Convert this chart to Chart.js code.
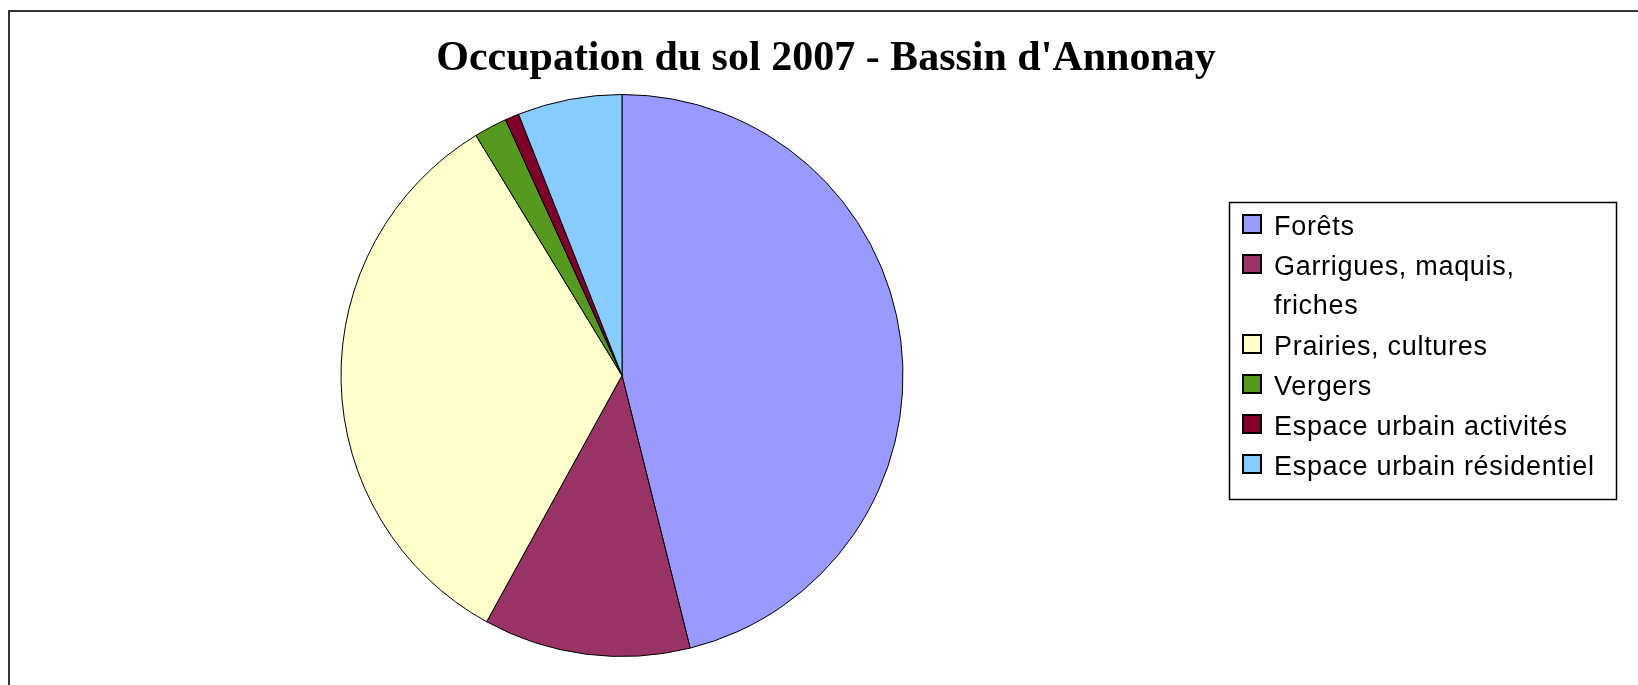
<!DOCTYPE html>
<html lang="fr">
<head>
<meta charset="utf-8">
<title>Occupation du sol 2007 - Bassin d'Annonay</title>
<script src="https://cdn.jsdelivr.net/npm/chart.js@4.4.1/dist/chart.umd.min.js"></script>
<style>
  html, body { margin: 0; padding: 0; background: #fff; }
  #wrap { width: 1638px; height: 685px; }
</style>
</head>
<body>
<div id="wrap"><canvas id="pieChart" width="1638" height="685"></canvas></div>
<script>
'use strict';

// land use shares (%), read clockwise from 12 o'clock
const categories = [
  'Forêts',
  ['Garrigues, maquis,', 'friches'],
  'Prairies, cultures',
  'Vergers',
  'Espace urbain activités',
  'Espace urbain résidentiel'
];
const shares  = [46.1, 11.9, 33.3, 1.9, 0.8, 6.0];
const colours = ['#9999ff', '#993366', '#ffffcc', '#559a1f', '#80002a', '#88ccff'];
const chartTitle = "Occupation du sol 2007 - Bassin d'Annonay";

// outer frame, title and boxed legend
const frameAndLegend = {
  id: 'frameAndLegend',
  beforeDraw: function (chart) {
    const ctx = chart.ctx;
    ctx.save();
    ctx.strokeStyle = '#333';
    ctx.lineWidth = 2;
    ctx.strokeRect(9, 11, 3000, 3000);
    ctx.restore();
  },
  afterDraw: function (chart) {
    const ctx = chart.ctx;
    const ds  = chart.data.datasets[0];
    ctx.save();

    // title
    ctx.fillStyle = '#000';
    ctx.font = 'bold 42px "Liberation Serif", "Times New Roman", serif';
    ctx.textAlign = 'center';
    ctx.textBaseline = 'alphabetic';
    ctx.fillText(chartTitle, 826, 70);

    // legend box
    ctx.strokeStyle = '#000';
    ctx.lineWidth = 1.5;
    ctx.strokeRect(1229.5, 202.5, 387, 297);

    ctx.font = '27px "Liberation Sans", Arial, sans-serif';
    ctx.letterSpacing = '0.7px';
    ctx.textAlign = 'left';
    let y = 224;
    chart.data.labels.forEach(function (label, i) {
      const lines = Array.isArray(label) ? label : [label];
      ctx.fillStyle = ds.backgroundColor[i];
      ctx.fillRect(1243, y - 9, 18, 18);
      ctx.strokeStyle = '#000';
      ctx.lineWidth = 2;
      ctx.strokeRect(1243, y - 9, 18, 18);
      ctx.fillStyle = '#000';
      lines.forEach(function (line, j) {
        ctx.fillText(line, 1274, y + 11 + j * 39);
      });
      y += 40 * lines.length;
    });
    ctx.restore();
  }
};

const ctx = document.getElementById('pieChart').getContext('2d');
new Chart(ctx, {
  type: 'pie',
  data: {
    labels: categories,
    datasets: [{
      data: shares,
      backgroundColor: colours,
      borderColor: '#000',
      borderWidth: 1
    }]
  },
  options: {
    responsive: false,
    animation: false,
    layout: {
      padding: { left: 340, right: 734, top: 94, bottom: 28 }
    },
    plugins: {
      legend: { display: false },
      title: { display: false },
      tooltip: { enabled: true }
    }
  },
  plugins: [frameAndLegend]
});
</script>
</body>
</html>
